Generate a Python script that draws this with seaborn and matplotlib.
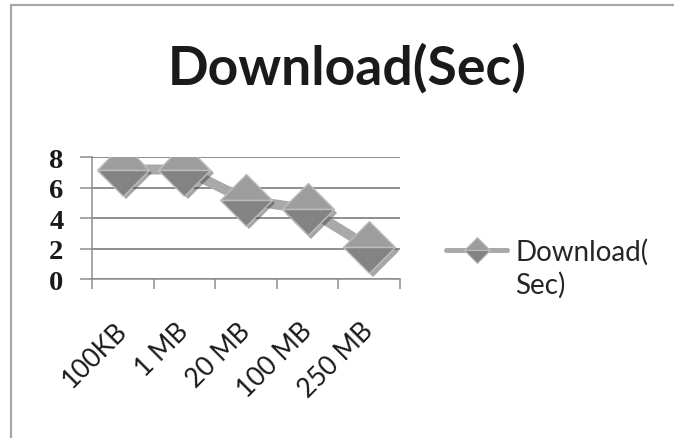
import numpy as np
import pandas as pd
import matplotlib
matplotlib.use("Agg")
import matplotlib.pyplot as plt
import matplotlib.patheffects as pe
from matplotlib.lines import Line2D
import seaborn as sns

# Download time per file size
sizes = ["100KB", "1 MB", "20 MB", "100 MB", "250 MB"]
download_sec = [7.2, 7.2, 5.2, 4.6, 2.1]
y_ticks = [0, 2, 4, 6, 8]
title = "Download(Sec)"
legend_lines = ["Download(", "Sec)"]

df = pd.DataFrame({"size": sizes, "sec": download_sec})

sns.set_theme(style="white")
plt.rcParams["font.family"] = ["Lato", "DejaVu Sans"]

W, H = 674, 439
fig = plt.figure(figsize=(W / 100, H / 100), dpi=100)
fig.patch.set_facecolor("white")
ax = fig.add_axes([92 / W, 1 - 280.3 / H, 308 / W, 122 / H])
ax.set_facecolor("white")

grid_c = "#8e8e8e"
line_c = "#a9a9a9"
face_top = "#9d9d9d"
face_bot = "#838383"
edge_c = "#bdbdbd"

# thick connecting line
sns.lineplot(data=df, x="size", y="sec", ax=ax, color=line_c, lw=7.2,
             solid_capstyle="butt", sort=False, zorder=3)

# two-tone diamond markers with a soft drop shadow
shadow = [pe.SimplePatchShadow(offset=(2.5, -2.5), shadow_rgbFace="#3a3a3a", alpha=0.45),
          pe.Normal()]
sns.lineplot(data=df, x="size", y="sec", ax=ax, linestyle="none", marker="D",
             markersize=26.5, fillstyle="top", markerfacecolor=face_top,
             markerfacecoloralt=face_bot, markeredgecolor=edge_c, markeredgewidth=1.0,
             sort=False, zorder=4, path_effects=shadow)

ax.set_xlim(-0.5, len(sizes) - 0.5)
ax.set_ylim(0, 8)
ax.set_xlabel("")
ax.set_ylabel("")

# y axis: gridlines plus outward ticks in the same grey
ax.set_yticks(y_ticks)
ax.set_yticklabels([str(v) for v in y_ticks], family="Liberation Serif",
                   fontweight="bold", fontsize=20.5, color="#1a1a1a")
ax.yaxis.grid(True, color=grid_c, lw=1.4)
ax.tick_params(axis="y", which="major", left=True, length=8.6, width=1.1,
               color=grid_c, pad=12)

# x axis: ticks between categories, labels centred on categories
ax.set_xticks(np.arange(-0.5, len(sizes)), labels=[])
ax.set_xticks(np.arange(len(sizes)), minor=True)
ax.set_xticklabels(sizes, minor=True, rotation=45, rotation_mode="anchor",
                   ha="right", va="center", fontsize=19, color="#1a1a1a")
ax.tick_params(axis="x", which="major", bottom=True, length=7.5, width=1.1, color=grid_c)
ax.tick_params(axis="x", which="minor", bottom=True, length=0, pad=34)

for side in ["top", "right"]:
    ax.spines[side].set_visible(False)
for side in ["left", "bottom"]:
    ax.spines[side].set_color(grid_c)
    ax.spines[side].set_linewidth(1.1)

# title
fig.text(347 / W, 1 - 68 / H, title, ha="center", va="center",
         fontsize=38.5, fontweight="bold", color="#1a1a1a")

# legend: series handle on the first line, wrapped remainder below
handle = Line2D([], [], color=line_c, lw=3.6, marker="D", markersize=13,
                fillstyle="top", markerfacecolor=face_top, markerfacecoloralt=face_bot,
                markeredgecolor=edge_c, markeredgewidth=0.8)
blank = Line2D([], [], linestyle="none")
ax.legend([handle, blank], legend_lines, loc="upper left",
          bbox_to_anchor=(446 / W, 1 - 239 / H), bbox_transform=fig.transFigure,
          frameon=False, handlelength=2.2, handletextpad=0.3,
          labelspacing=0.2, borderpad=0, borderaxespad=0,
          prop={"family": ["Lato", "DejaVu Sans"], "size": 20})

# chart-area border along the top and left edges
border_c = "#a6a6a6"
fig.add_artist(Line2D([10.5 / W, 10.5 / W], [0, 1 - 5.5 / H], transform=fig.transFigure,
                      color=border_c, lw=1.6))
fig.add_artist(Line2D([10.5 / W, 1], [1 - 5.5 / H, 1 - 5.5 / H], transform=fig.transFigure,
                      color=border_c, lw=1.6))

fig.savefig("out.png", dpi=100, facecolor="white")
